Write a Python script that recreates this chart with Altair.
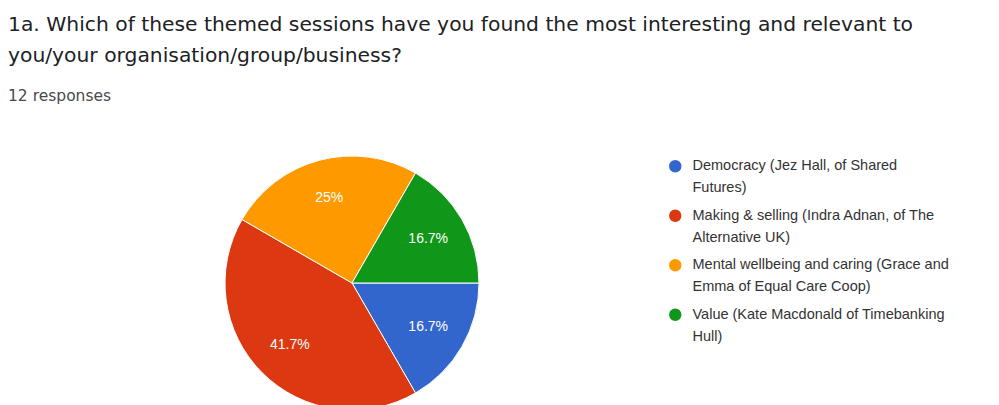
import altair as alt
import pandas as pd
import math

categories = [
    "Democracy (Jez Hall, of Shared|Futures)",
    "Making & selling (Indra Adnan, of The|Alternative UK)",
    "Mental wellbeing and caring (Grace and|Emma of Equal Care Coop)",
    "Value (Kate Macdonald of Timebanking|Hull)",
]
counts = [2, 5, 3, 2]
colors = ["#3366cc", "#dc3912", "#ff9900", "#109618"]
title_lines = [
    "1a. Which of these themed sessions have you found the most interesting and relevant to",
    "you/your organisation/group/business?",
]
subtitle = "12 responses"

total = sum(counts)
def pct(c):
    v = round(c / total * 100, 1)
    s = f"{v:.1f}"
    if s.endswith(".0"):
        s = s[:-2]
    return s + "%"

df = pd.DataFrame({
    "category": categories,
    "count": counts,
    "order": list(range(len(categories))),
    "label": [pct(c) for c in counts],
})

theta_scale = alt.Scale(range=[math.pi / 2, math.pi / 2 + 2 * math.pi])

base = alt.Chart(df).encode(
    theta=alt.Theta("count:Q", stack=True, scale=theta_scale),
    order=alt.Order("order:Q"),
)

pie = base.mark_arc(outerRadius=127, stroke="white", strokeWidth=1).encode(
    color=alt.Color(
        "category:N",
        sort=categories,
        scale=alt.Scale(domain=categories, range=colors),
        legend=alt.Legend(
            title=None,
            orient="none",
            legendX=660,
            legendY=11,
            labelExpr="split(datum.label, '|')",
            labelFont="Liberation Sans",
            labelFontSize=14.5,
            labelColor="#333333",
            labelLimit=400,
            symbolType="circle",
            symbolSize=154,
            symbolStrokeWidth=0,
            rowPadding=12.5,
            labelOffset=10,
        ),
    )
)

labels = base.mark_text(
    radius=88, color="white", font="Liberation Sans", fontSize=14
).encode(text="label:N")

chart = (
    alt.layer(pie, labels)
    .properties(
        width=688,
        height=270,
        autosize=alt.AutoSizeParams(type="none"),
        padding={"top": 140, "left": 0, "right": 295, "bottom": 0},
        title=alt.TitleParams(
            text=title_lines,
            subtitle=subtitle,
            anchor="start",
            frame="group",
            font="DejaVu Sans",
            fontSize=20.3,
            fontWeight="normal",
            color="#202124",
            lineHeight=31,
            subtitleFont="DejaVu Sans",
            subtitleFontSize=15.5,
            subtitleColor="#4a4a4a",
            subtitlePadding=22,
            offset=44,
        ),
    )
    .configure_view(stroke=None)
    .configure(style={"guide-label": {"lineHeight": 22}})
)

chart.save("out.html", embed_options={"renderer": "svg", "actions": False})
